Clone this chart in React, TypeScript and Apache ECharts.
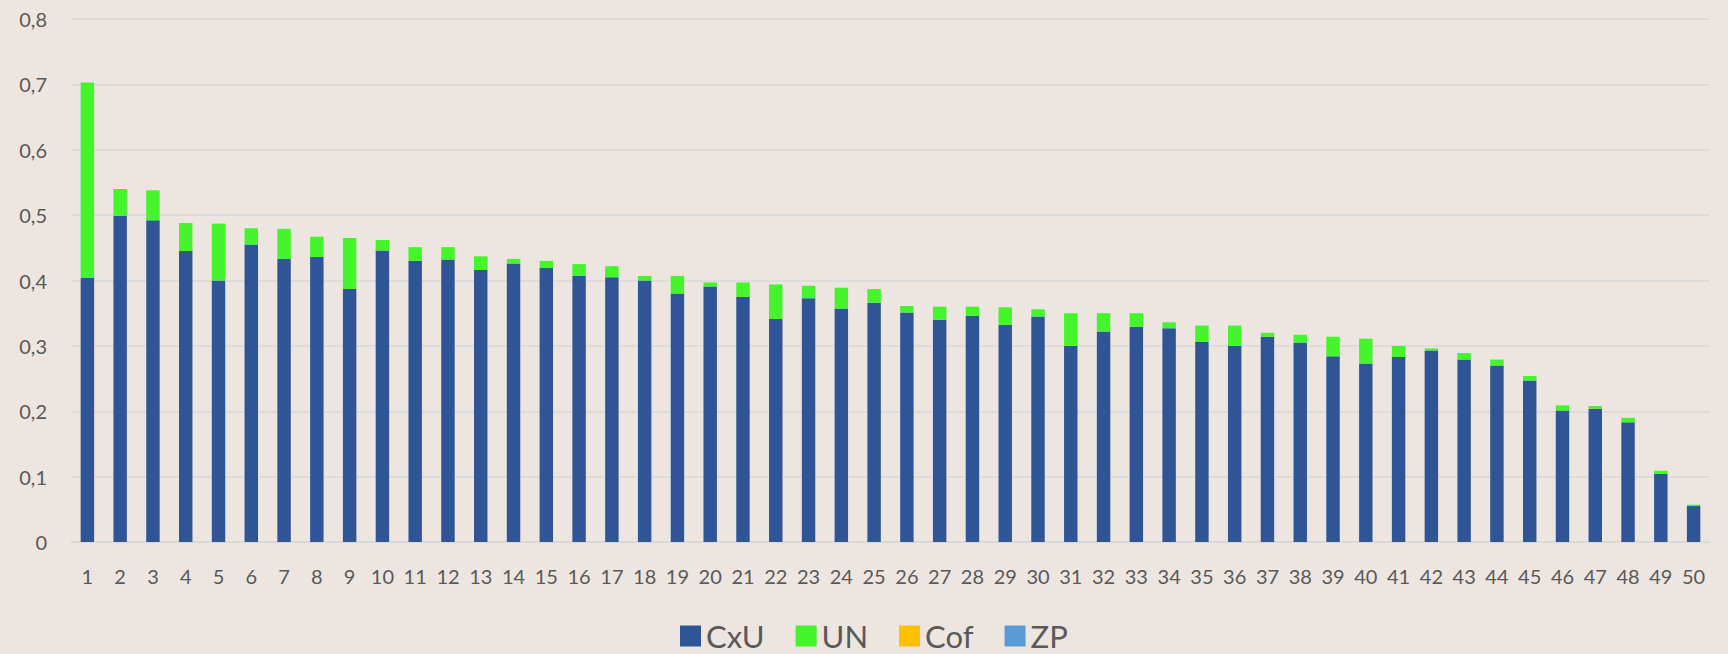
import React, { useEffect, useRef } from "react";
import * as echarts from "echarts";

const categories = Array.from({ length: 50 }, (_, i) => String(i + 1));

const cxuValues = [
  0.404, 0.499, 0.492, 0.445, 0.400, 0.455, 0.433, 0.436, 0.387, 0.446,
  0.430, 0.432, 0.416, 0.426, 0.419, 0.407, 0.405, 0.400, 0.380, 0.391,
  0.375, 0.341, 0.373, 0.357, 0.366, 0.351, 0.340, 0.346, 0.332, 0.345,
  0.300, 0.322, 0.329, 0.327, 0.306, 0.300, 0.314, 0.305, 0.284, 0.273,
  0.283, 0.293, 0.279, 0.270, 0.247, 0.201, 0.204, 0.183, 0.104, 0.055,
];

const unValues = [
  0.299, 0.041, 0.046, 0.043, 0.087, 0.025, 0.046, 0.031, 0.078, 0.016,
  0.021, 0.019, 0.021, 0.007, 0.011, 0.018, 0.017, 0.007, 0.027, 0.006,
  0.022, 0.053, 0.019, 0.032, 0.021, 0.010, 0.020, 0.014, 0.027, 0.011,
  0.050, 0.028, 0.021, 0.009, 0.025, 0.031, 0.006, 0.012, 0.030, 0.038,
  0.017, 0.003, 0.010, 0.009, 0.007, 0.008, 0.004, 0.007, 0.005, 0.002,
];

const cofValues: number[] = [];
const zpValues: number[] = [];

const seriesNames = ["CxU", "UN", "Cof", "ZP"];
const seriesColors = ["#2F5597", "#43F52A", "#FFC000", "#5B9BD5"];

export default function App() {
  const ref = useRef<HTMLDivElement>(null);
  useEffect(() => {
    if (!ref.current) return;
    const chart = echarts.init(ref.current, undefined, { renderer: "svg" });
    const dataSets = [cxuValues, unValues, cofValues, zpValues];
    chart.setOption({
      animation: false,
      backgroundColor: "#ECE5E0",
      grid: { left: 71, right: 18, top: 19, bottom: 112, containLabel: false },
      legend: {
        data: seriesNames,
        left: 680,
        top: 619,
        padding: 0,
        itemWidth: 21,
        itemHeight: 21,
        itemGap: 31,
        icon: "rect",
        textStyle: {
          fontFamily: "Lato",
          fontSize: 31,
          color: "#595959",
          lineHeight: 34,
        },
      },
      xAxis: {
        type: "category",
        data: categories,
        axisLine: { show: true, lineStyle: { color: "#D9D9D9", width: 1.5 } },
        axisTick: { show: false },
        axisLabel: {
          fontFamily: "Lato",
          fontSize: 20,
          color: "#595959",
          margin: 24,
          interval: 0,
        },
      },
      yAxis: {
        type: "value",
        min: 0,
        max: 0.8,
        interval: 0.1,
        axisLine: { show: false },
        axisTick: { show: false },
        splitLine: { lineStyle: { color: "#D9D9D9", width: 1.5 } },
        axisLabel: {
          fontFamily: "Lato",
          fontSize: 20,
          color: "#595959",
          margin: 24,
          formatter: (v: number) => (v === 0 ? "0" : v.toFixed(1).replace(".", ",")),
        },
      },
      series: seriesNames.map((name, i) => ({
        name,
        type: "bar",
        stack: "total",
        barCategoryGap: "59%",
        data: dataSets[i],
        itemStyle: { color: seriesColors[i] },
      })),
    });
    return () => chart.dispose();
  }, []);
  return (
    <div
      ref={ref}
      style={{ position: "fixed", left: 0, top: 0, width: 1728, height: 654 }}
    />
  );
}
